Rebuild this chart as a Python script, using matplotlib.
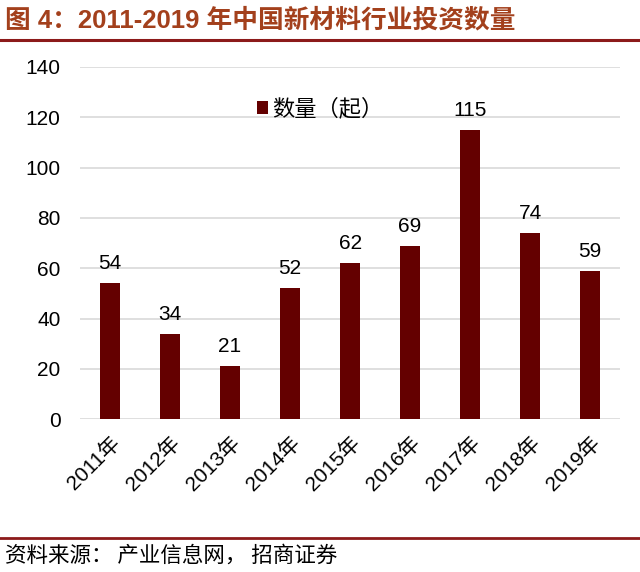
import matplotlib
matplotlib.use("Agg")
import matplotlib.pyplot as plt
from matplotlib.lines import Line2D

plt.rcParams['font.family'] = ['Liberation Sans', 'Noto Sans CJK SC', 'DejaVu Sans']

years = ["2011年", "2012年", "2013年", "2014年", "2015年",
         "2016年", "2017年", "2018年", "2019年"]
counts = [54, 34, 21, 52, 62, 69, 115, 74, 59]
y_ticks = [0, 20, 40, 60, 80, 100, 120, 140]

title = "图 4：2011-2019 年中国新材料行业投资数量"
legend_label = "数量（起）"
source = "资料来源： 产业信息网， 招商证券"

bar_color = "#640000"
title_color = "#A3401C"
rule_color = "#8C1A1A"

fig = plt.figure(figsize=(6.4, 5.72), dpi=100)
ax = fig.add_axes([0.125, 0.267, 0.844, 0.616])

x = range(len(years))
ax.bar(x, counts, width=0.34, color=bar_color, zorder=3, label=legend_label)

# value labels above bars
for xi, v in zip(x, counts):
    ax.text(xi, v + 4, str(v), ha="center", va="bottom", fontsize=15)

ax.set_xlim(-0.5, len(years) - 0.5)
ax.set_ylim(0, 140)
ax.set_yticks(y_ticks)
ax.tick_params(axis="y", labelsize=15, length=0, pad=14)
ax.tick_params(axis="x", length=0, pad=10)
ax.set_xticks(list(x))
ax.set_xticklabels(years, rotation=45, ha="right", rotation_mode="anchor",
                   fontsize=15, family=['Liberation Sans', 'Noto Sans CJK SC'])
ax.yaxis.grid(True, color="#d9d9d9", linewidth=1.2, zorder=0)
for s in ax.spines.values():
    s.set_visible(False)

ax.legend(loc="upper center", bbox_to_anchor=(0.445, 0.97), frameon=False,
          handlelength=0.5, handleheight=0.5, handletextpad=0.2,
          prop={'family': ['Noto Sans CJK SC'], 'size': 16})

fig.text(0.008, 0.965, title, fontsize=18.5, fontweight="bold", color=title_color,
         ha="left", va="center", family=['Liberation Sans', 'Noto Sans CJK SC'])
fig.add_artist(Line2D([0, 1], [0.93, 0.93], color=rule_color, linewidth=2.2,
                      transform=fig.transFigure))
fig.add_artist(Line2D([0, 1], [0.06, 0.06], color=rule_color, linewidth=2,
                      transform=fig.transFigure))
fig.text(0.008, 0.029, source, fontsize=15.5, ha="left", va="center",
         family=['Noto Sans CJK SC'])

fig.savefig("out.png", dpi=100)
